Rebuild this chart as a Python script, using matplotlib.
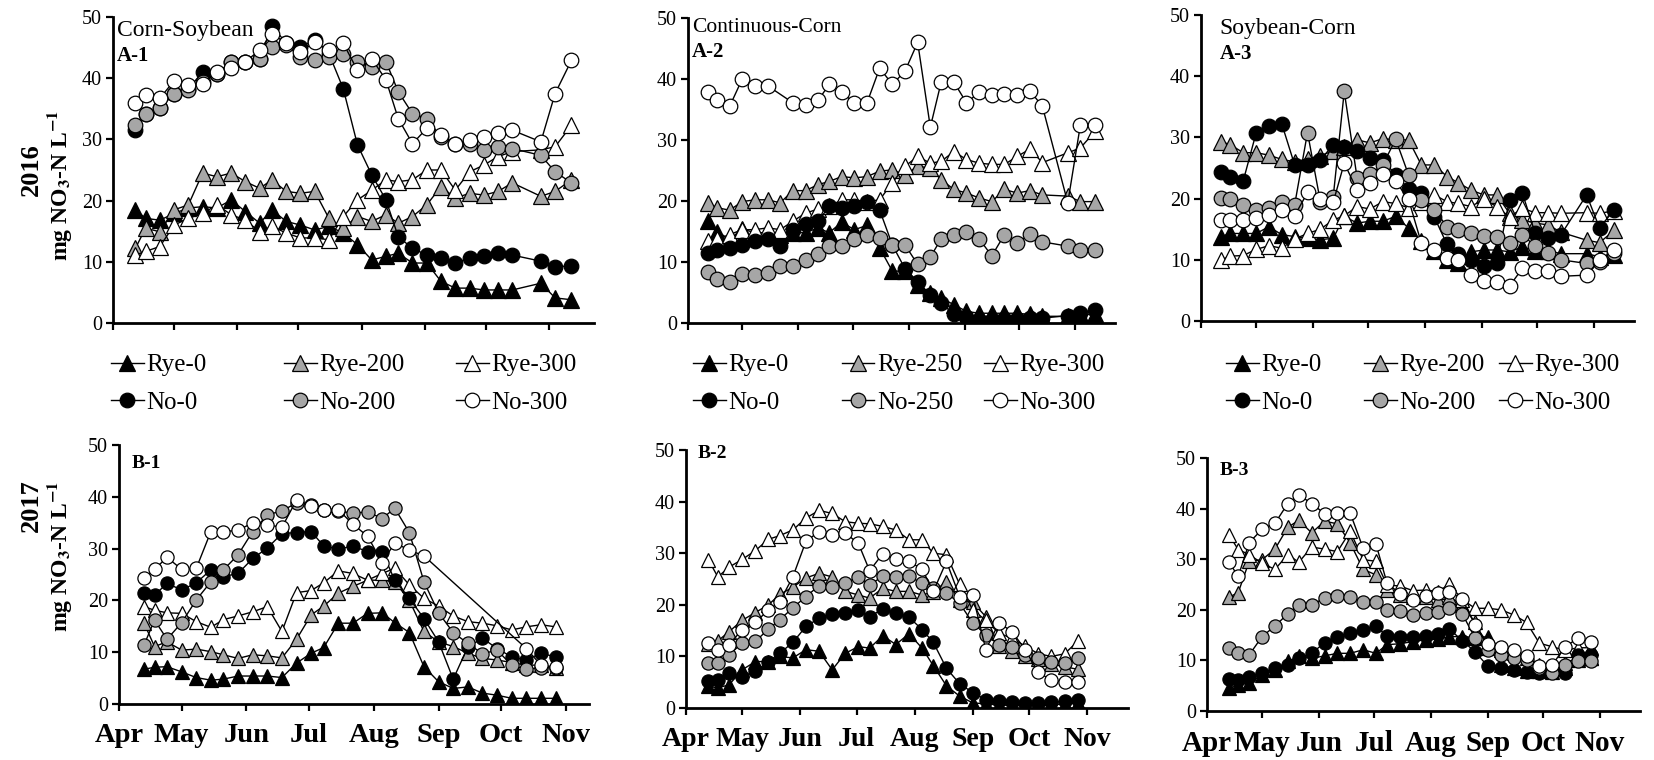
import numpy as np
import matplotlib
matplotlib.use('Agg')
import matplotlib.pyplot as plt

plt.rcParams['font.family'] = ['Liberation Serif', 'DejaVu Serif']
plt.rcParams['mathtext.fontset'] = 'stix'

nan = np.nan
W, H = 1654, 760

months = ['Apr', 'May', 'Jun', 'Jul', 'Aug', 'Sep', 'Oct', 'Nov']
month_days = [0, 30, 61, 91, 122, 153, 183, 214]   # days after Apr 1

# sampling dates, days after Apr 1
days_2016 = [11, 16, 23, 30, 37, 44, 51, 58, 65, 72, 78, 85, 92, 99, 106, 113,
             120, 127, 134, 140, 147, 154, 161, 168, 175, 182, 189, 196, 210, 217, 225]
days_2017 = [12, 17, 23, 30, 37, 44, 50, 57, 64, 71, 78, 85, 92, 98, 105, 112,
             119, 126, 132, 139, 146, 153, 160, 167, 174, 181, 188, 195, 202, 209]

# A-1 Corn-Soybean 2016
a1_rye0 = [18.5, 17.1, 16.8, 17.9, 18.8, 19.0, 18.8, 20.1, 18.2, 16.3, 18.5, 16.6, 16.0, 15.2, 15.8, 14.7,
           12.8, 10.3, 10.9, 11.4, 9.8, 9.8, 6.8, 5.7, 5.7, 5.4, 5.4, 5.4, 6.5, 4.1, 3.8]
a1_rye200 = [12.2, 15.5, 14.9, 18.5, 19.3, 24.5, 23.9, 24.5, 23.1, 22.0, 23.4, 21.5, 21.2, 21.5, 17.1, 15.5,
             17.4, 16.6, 17.7, 16.3, 17.4, 19.3, 22.3, 20.4, 21.2, 20.9, 21.5, 22.9, 20.7, 21.5, 23.4]
a1_rye300 = [11.1, 11.7, 12.5, 16.0, 17.1, 17.9, 19.3, 17.7, 16.8, 14.9, 15.8, 14.7, 13.9, 13.9, 13.6, 17.4,
             20.1, 21.7, 23.4, 23.1, 23.4, 25.0, 25.0, 21.7, 24.7, 25.8, 27.2, 28.0, 28.3, 28.8, 32.3]
a1_no0 = [31.5, 34.2, 35.1, 37.5, 38.3, 41.0, 40.7, 42.7, 42.7, 43.2, 48.6, 45.7, 45.1, 46.3, 44.0, 38.3,
          29.1, 24.2, 20.1, 14.1, 12.2, 11.1, 10.6, 9.8, 10.6, 10.9, 11.4, 11.1, 10.1, 9.2, 9.3]
a1_no200 = [32.3, 34.2, 35.1, 37.5, 38.0, 39.4, 40.7, 42.7, 42.7, 43.2, 45.1, 45.4, 43.5, 42.9, 43.5, 44.0,
            42.7, 41.8, 42.7, 37.8, 34.2, 33.4, 30.4, 29.3, 29.3, 28.3, 28.8, 28.5, 27.4, 24.7, 22.9]
a1_no300 = [35.9, 37.2, 36.7, 39.6, 38.9, 39.1, 41.0, 41.6, 42.7, 44.6, 47.3, 45.7, 44.3, 45.9, 44.6, 45.7,
            41.3, 43.2, 39.7, 33.4, 29.3, 31.8, 30.7, 29.3, 29.9, 30.4, 31.0, 31.5, 29.6, 37.5, 42.9]

# A-2 Continuous-Corn 2016
a2_rye0 = [16.7, 15.0, 13.7, 15.4, 14.8, 14.8, 14.5, 14.8, 14.8, 15.6, 14.8, 16.5, 15.3, 16.0, 12.3, 8.5,
           8.5, 6.3, 4.9, 4.1, 3.0, 1.9, 1.6, 1.6, 1.6, 1.6, 1.4, 1.1, 1.1, 1.4, 1.4]
a2_rye250 = [19.7, 18.9, 18.5, 19.9, 20.2, 20.2, 19.7, 21.7, 21.7, 22.7, 23.2, 24.0, 23.8, 24.0, 24.9, 25.1,
             24.3, 25.7, 25.4, 23.5, 21.9, 21.3, 20.5, 19.9, 21.9, 21.3, 21.7, 21.0, 20.8, 19.9, 19.9]
a2_rye300 = [13.4, 13.7, 14.5, 15.3, 15.3, 15.6, 15.3, 16.7, 18.0, 18.7, 19.1, 20.2, 20.2, 19.9, 20.2, 23.0,
             25.7, 27.3, 26.2, 26.5, 28.1, 26.8, 26.2, 26.0, 26.0, 27.3, 28.5, 26.3, 27.9, 28.7, 31.4]
a2_no0 = [11.5, 11.9, 12.3, 12.8, 13.4, 13.8, 12.6, 15.3, 16.3, 16.7, 19.1, 18.9, 19.1, 19.9, 18.5, 12.8,
          8.9, 6.8, 4.6, 3.3, 1.4, 1.0, 0.5, 0.5, 0.7, 0.7, 0.8, 0.8, 1.2, 1.7, 2.2]
a2_no250 = [8.3, 7.2, 6.7, 8.1, 7.9, 8.2, 9.3, 9.3, 10.3, 11.3, 12.6, 12.7, 13.7, 14.5, 13.9, 12.8,
            12.8, 9.6, 10.8, 13.8, 14.5, 14.9, 13.8, 11.0, 14.5, 13.1, 14.6, 13.3, 12.6, 12.0, 11.9]
a2_no300 = [37.8, 36.6, 35.5, 40.0, 38.9, 38.9, nan, 36.1, 35.8, 36.5, 39.1, 37.8, 36.1, 36.1, 41.8, 39.1,
            41.3, 46.0, 32.1, 39.5, 39.5, 36.1, 37.8, 37.3, 37.6, 37.4, 38.1, 35.5, 19.7, 32.5, 32.5]

# A-3 Soybean-Corn 2016
a3_rye0 = [13.8, 14.3, 14.3, 14.3, 15.4, 14.1, 13.8, 13.5, 13.3, 13.5, 17.1, 16.0, 16.3, 16.3, 17.1, 15.2,
           13.0, 11.5, 10.0, 9.4, 11.3, 11.6, 11.6, 11.3, 12.1, 11.5, 11.5, 11.0, 11.0, 10.5, 10.8]
a3_rye200 = [29.3, 28.8, 27.5, 27.5, 27.1, 26.4, 26.0, 26.5, 27.0, 27.8, 28.5, 29.6, 29.1, 29.8, 29.6, 29.6,
             25.5, 25.5, 23.6, 22.6, 21.4, 20.6, 20.6, 17.6, 16.5, 16.0, 15.7, 14.5, 13.2, 12.8, 14.8]
a3_rye300 = [10.0, 10.6, 10.7, 11.7, 12.3, 11.9, 13.4, 14.3, 15.0, 16.5, 17.2, 18.7, 18.3, 19.5, 19.2, 18.5,
             19.5, 20.6, 19.5, 19.2, 18.7, 19.9, 18.7, 17.0, 18.4, 17.7, 17.7, 17.6, 17.7, 17.6, 18.0]
a3_no0 = [24.4, 23.6, 22.9, 30.7, 31.8, 32.2, 25.5, 25.5, 26.3, 28.8, 28.4, 27.7, 26.6, 26.3, 23.9, 21.6,
          20.9, 17.0, 12.5, 11.0, 10.0, 9.0, 9.4, 19.8, 20.9, 14.3, 13.5, 14.1, 20.6, 15.2, 18.2]
a3_no200 = [20.1, 19.9, 19.0, 18.2, 18.4, 19.4, 19.0, 30.8, 19.5, 20.3, 37.5, 23.4, 24.0, 25.5, 29.7, 23.9,
            19.8, 18.2, 15.4, 14.9, 14.3, 13.9, 13.8, 12.7, 14.1, 12.2, 11.1, 10.0, 9.4, 9.7, 11.1]
a3_no300 = [16.5, 16.5, 16.5, 16.8, 17.3, 18.2, 17.2, 21.0, 19.9, 19.4, 25.8, 21.4, 22.6, 24.1, 22.8, 19.9,
            12.7, 11.6, 10.3, 10.0, 7.5, 6.6, 6.4, 5.7, 8.6, 8.1, 8.1, 7.3, 7.5, 10.0, 11.6]

# B-1 Corn-Soybean 2017
b1_rye0 = [6.7, 7.1, 7.2, 6.2, 5.1, 4.6, 4.8, 5.4, 5.4, 5.4, 5.1, 7.9, 9.8, 10.9, 15.6, 15.6,
           17.5, 17.6, 15.7, 13.8, 7.2, 4.3, 3.0, 3.3, 2.1, 1.7, 1.1, 1.1, 1.1, 1.1]
b1_rye200 = [15.6, 11.1, 12.0, 10.4, 10.6, 10.1, 9.5, 8.8, 9.5, 9.3, 8.9, 12.5, 17.2, 18.9, 21.4, 22.7,
             23.9, 23.9, 23.6, 20.0, 14.0, 12.0, 11.1, 9.8, 8.8, 8.5, 8.0, 7.5, 7.5, 7.0]
b1_rye300 = [18.8, 18.1, 17.6, 17.5, 15.9, 14.8, 16.3, 17.0, 17.8, 18.8, 14.0, 21.5, 21.9, 23.4, 25.7, 25.2,
             23.9, 25.2, 26.2, 23.0, 20.4, 18.9, 17.0, 15.9, 15.6, 15.1, 14.3, 14.9, 15.3, 14.9]
b1_no0 = [21.4, 21.0, 23.3, 22.0, 23.4, 25.9, 24.6, 25.2, 28.1, 30.1, 32.9, 33.1, 33.3, 30.5, 29.9, 30.5,
          29.4, 29.4, 23.9, 20.4, 16.5, 12.0, 4.8, 11.0, 12.7, 10.7, 9.1, 8.5, 9.8, 9.1]
b1_no200 = [11.4, 16.2, 12.5, 15.7, 20.1, 23.6, 25.9, 28.8, 33.3, 36.5, 37.3, 38.8, 38.5, 37.5, 37.3, 36.8,
            37.1, 35.8, 37.8, 33.1, 23.6, 17.6, 13.8, 11.7, 9.7, 10.4, 7.5, 6.7, 7.0, 7.0]
b1_no300 = [24.3, 26.0, 28.3, 26.0, 26.2, 33.3, 33.3, 33.5, 35.0, 34.6, 34.1, 39.4, 38.2, 37.5, 37.5, 34.7,
            32.4, 27.3, 31.1, 29.7, 28.6, nan, nan, nan, nan, nan, nan, 10.7, 7.5, 7.1]

# B-2 Continuous-Corn 2017
b2_rye0 = [4.2, 3.9, 4.5, 7.4, 9.0, 9.0, 10.0, 9.7, 11.3, 11.0, 7.4, 10.6, 11.9, 11.6, 14.0, 12.3,
           14.4, 11.6, 8.2, 4.3, 2.3, 1.0, 0.8, 0.6, 0.5, 0.5, 0.5, 0.6, 0.8, 1.0]
b2_rye250 = [12.5, 13.0, 14.8, 17.0, 18.5, 20.0, 22.0, 23.4, 25.2, 26.1, 25.4, 22.6, 21.9, 21.3, 23.2, 22.6,
             22.6, 21.9, 22.5, 24.5, 21.0, 20.5, 17.7, 12.0, 11.0, 10.0, 9.5, 8.5, 8.0, 7.5]
b2_rye300 = [28.7, 25.4, 27.3, 28.8, 30.5, 32.7, 33.4, 34.5, 36.8, 38.3, 37.7, 36.1, 35.8, 35.7, 35.2, 34.5,
             32.6, 32.6, 30.0, 29.7, 24.0, 19.0, 17.0, 14.5, 13.5, 12.0, 10.5, 10.0, 10.5, 12.9]
b2_no0 = [5.2, 5.5, 6.8, 6.1, 7.1, 9.0, 10.6, 12.7, 15.8, 17.4, 18.3, 18.5, 19.0, 17.7, 19.2, 18.4,
          17.6, 15.2, 12.7, 7.7, 4.7, 3.0, 1.6, 1.3, 1.1, 1.0, 1.0, 1.1, 1.3, 1.6]
b2_no250 = [8.8, 8.7, 10.3, 12.6, 12.9, 15.3, 17.1, 19.4, 21.6, 23.7, 23.4, 24.2, 25.4, 23.9, 25.5, 25.4,
            25.5, 24.2, 23.2, 22.3, 20.3, 16.5, 14.2, 12.3, 11.9, 10.3, 9.7, 9.0, 8.8, 9.7]
b2_no300 = [12.6, 11.3, 12.3, 15.2, 16.6, 19.0, 20.6, 25.4, 32.3, 34.2, 33.5, 33.9, 31.9, 26.6, 29.9, 28.8,
            28.4, 26.9, 22.6, 28.4, 21.6, 21.9, 11.3, 16.5, 14.8, 11.3, 6.9, 5.4, 5.0, 5.0]

# B-3 Soybean-Corn 2017
b3_rye0 = [4.5, 5.1, 5.6, 7.1, 8.1, 9.8, 10.8, 10.4, 10.9, 11.4, 11.4, 12.1, 11.4, 13.1, 13.3, 13.7,
           14.1, 14.2, 14.7, 14.7, 14.5, 14.7, 9.0, 8.5, 8.0, 8.0, 7.8, 8.5, 10.0, 10.5]
b3_rye200 = [22.5, 23.4, 29.6, 29.9, 32.0, 36.3, 37.7, 35.2, 37.5, 37.0, 33.2, 28.0, 26.9, 24.0, 23.0, 22.5,
             22.5, 22.0, 22.5, 21.0, 17.5, 12.5, 12.0, 11.5, 10.5, 9.0, 8.5, 9.5, 10.5, 10.5]
b3_rye300 = [34.8, 31.9, 30.9, 29.2, 28.0, 30.9, 29.4, 32.4, 32.0, 31.5, 35.5, 29.9, 29.6, 24.9, 24.7, 23.8,
             23.9, 23.6, 25.1, 22.0, 20.3, 20.3, 20.0, 19.0, 17.5, 13.4, 12.7, 12.0, 12.5, 12.5]
b3_no0 = [6.3, 6.1, 6.8, 7.6, 8.4, 9.1, 10.4, 11.4, 13.5, 14.7, 15.5, 16.0, 16.8, 14.8, 14.7, 14.7,
          14.8, 15.2, 16.2, 13.9, 11.7, 8.8, 8.4, 8.1, 7.8, 7.6, 7.8, 7.6, 11.1, 11.1]
b3_no200 = [12.4, 11.4, 11.1, 14.7, 16.8, 19.2, 21.0, 21.0, 22.3, 22.8, 22.5, 21.6, 21.6, 19.9, 19.7, 19.0,
            19.3, 19.5, 20.3, 19.2, 14.4, 12.1, 11.1, 10.4, 10.1, 8.4, 7.5, 9.1, 9.8, 9.8]
b3_no300 = [29.4, 26.6, 33.3, 35.9, 37.1, 41.0, 42.7, 41.0, 39.0, 39.2, 39.1, 32.2, 33.0, 25.3, 23.2, 22.0,
            22.8, 23.3, 23.6, 22.1, 17.0, 13.3, 12.7, 12.1, 10.9, 8.8, 9.1, 12.7, 14.4, 13.7]

GRAY = '#a6a6a6'
fig = plt.figure(figsize=(W / 100, H / 100), dpi=100)


def make_axes(apr_px, nov_px, top_px, bot_px, xmax=236):
    right = apr_px + (nov_px - apr_px) * xmax / 214
    ax = fig.add_axes([apr_px / W, 1 - bot_px / H, (right - apr_px) / W, (bot_px - top_px) / H])
    ax.set_xlim(0, xmax)
    ax.set_ylim(0, 50)
    ax.set_yticks(range(0, 51, 10))
    ax.set_xticks(month_days)
    for s in ['top', 'right']:
        ax.spines[s].set_visible(False)
    for s in ['left', 'bottom']:
        ax.spines[s].set_linewidth(2.0)
    ax.tick_params(direction='out', length=5, width=1.6, labelsize=14.5, pad=3)
    ax.patch.set_alpha(0)
    return ax


def draw(ax, days, series, ms):
    lines = []
    for marker, face, vals in series:
        x = np.array(days, float)
        y = np.array(vals, float)
        ok = ~np.isnan(y)
        size = ms + 0.5 if marker == '^' else ms
        h, = ax.plot(x[ok], y[ok], color='black', lw=1.0, marker=marker, ms=size,
                     mfc=face, mec='black', mew=0.9)
        lines.append(h)
    return lines


top_panels = [
    ((113, 549, 17, 323, 236), 'Corn-Soybean', 17, 'A-1', ('200', '300'),
     [a1_rye0, a1_rye200, a1_rye300, a1_no0, a1_no200, a1_no300],
     (117, 36), (117, 61), [127, 300, 472]),
    ((688, 1075, 18, 323, 236), 'Continuous-Corn', 15.5, 'A-2', ('250', '300'),
     [a2_rye0, a2_rye250, a2_rye300, a2_no0, a2_no250, a2_no300],
     (692, 32), (692, 57), [709, 858, 1000]),
    ((1201, 1594, 15, 321, 236), 'Soybean-Corn', 17, 'A-3', ('200', '300'),
     [a3_rye0, a3_rye200, a3_rye300, a3_no0, a3_no200, a3_no300],
     (1219, 34), (1220, 59), [1242, 1380, 1515]),
]
bottom_panels = [
    ((119, 566, 445, 704, 225), 'B-1', [b1_rye0, b1_rye200, b1_rye300, b1_no0, b1_no200, b1_no300], (132, 468), 20.5),
    ((686, 1087, 450, 708, 236), 'B-2', [b2_rye0, b2_rye250, b2_rye300, b2_no0, b2_no250, b2_no300], (698, 458), 20),
    ((1207, 1600, 458, 711, 236), 'B-3', [b3_rye0, b3_rye200, b3_rye300, b3_no0, b3_no200, b3_no300], (1220, 475), 21),
]

faces = ['black', GRAY, 'white']

for box, name, nfs, tag, rates, data, name_pos, tag_pos, leg_x in top_panels:
    ax = make_axes(*box)
    ax.tick_params(axis='x', labelbottom=False)
    series = [('^', faces[i], data[i]) for i in range(3)] + [('o', faces[i], data[3 + i]) for i in range(3)]
    lines = draw(ax, days_2016, series, 10.5)
    fig.text(name_pos[0] / W, 1 - name_pos[1] / H, name, fontsize=nfs, va='baseline', ha='left')
    fig.text(tag_pos[0] / W, 1 - tag_pos[1] / H, tag, fontsize=15, fontweight='bold', va='baseline', ha='left')
    labels = ['0', rates[0], rates[1]]
    for j in range(3):
        fig.legend([lines[j], lines[3 + j]], ['Rye-' + labels[j], 'No-' + labels[j]],
                   loc='center left', bbox_to_anchor=((leg_x[j] - 16) / W, 1 - 384 / H),
                   frameon=False, borderpad=0, borderaxespad=0, handlelength=1.3,
                   handletextpad=0.12, labelspacing=0.6, fontsize=18, numpoints=1)

for box, tag, data, tag_pos, mfs in bottom_panels:
    ax = make_axes(*box)
    series = [('^', faces[i], data[i]) for i in range(3)] + [('o', faces[i], data[3 + i]) for i in range(3)]
    draw(ax, days_2017, series, 9.5)
    ax.set_xticklabels(months, fontsize=mfs, fontweight='bold')
    ax.tick_params(axis='x', pad=9)
    fig.text(tag_pos[0] / W, 1 - tag_pos[1] / H, tag, fontsize=14, fontweight='bold', va='baseline', ha='left')

ylab = r'mg NO$_\mathbf{3}$-N L$^\mathbf{-1}$'
fig.text(31 / W, 1 - 170 / H, '2016', rotation=90, fontsize=19, fontweight='bold', ha='center', va='center')
fig.text(59 / W, 1 - 185 / H, ylab, rotation=90, fontsize=17, fontweight='bold', ha='center', va='center')
fig.text(31 / W, 1 - 506 / H, '2017', rotation=90, fontsize=19, fontweight='bold', ha='center', va='center')
fig.text(59 / W, 1 - 556 / H, ylab, rotation=90, fontsize=17, fontweight='bold', ha='center', va='center')

fig.savefig('out.png', dpi=100)
